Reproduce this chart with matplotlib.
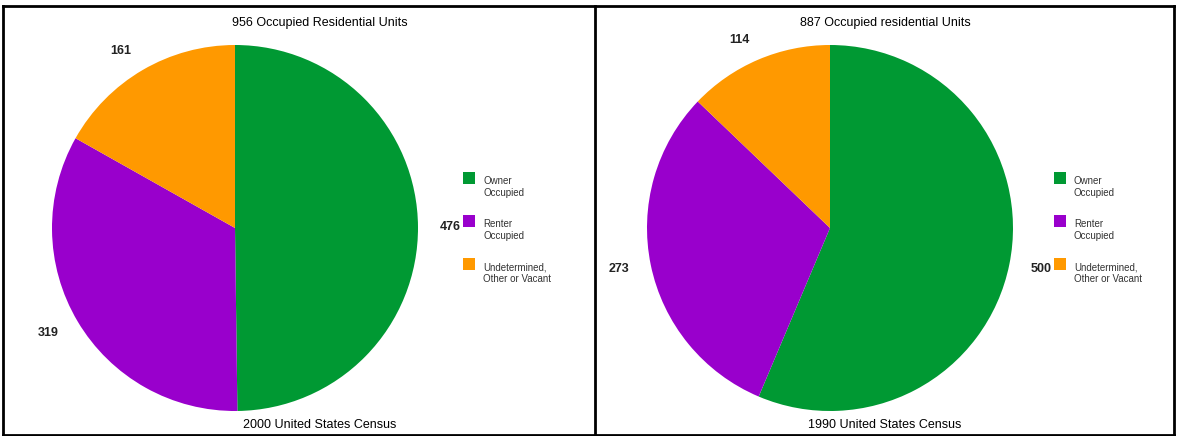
import matplotlib.pyplot as plt
from matplotlib.patches import Rectangle
from matplotlib.lines import Line2D

# data
categories = ['Owner\nOccupied', 'Renter\nOccupied', 'Undetermined,\nOther or Vacant']
units_2000 = [476, 319, 161]
units_1990 = [500, 273, 114]
colors = ['#009933', '#9900CC', '#FF9900']

W, H = 1177, 436
fig = plt.figure(figsize=(W / 100, H / 100), dpi=100)
fig.patch.set_facecolor('white')

narrow = ['Liberation Sans Narrow', 'Liberation Sans', 'DejaVu Sans']
bold = ['Liberation Sans', 'DejaVu Sans']


def fx(x):
    return x / W


def fy(y):
    return 1 - y / H


def panel(cx, cy, r, values, title, footer, text_x, legend_x):
    ax = fig.add_axes([fx(cx - r), fy(cy + r), 2 * r / W, 2 * r / H])
    ax.pie(values, colors=colors, startangle=90, counterclock=False,
           labels=[str(v) for v in values], labeldistance=1.12,
           textprops=dict(fontsize=9, fontweight='bold', family=bold, color='#222222'),
           wedgeprops=dict(linewidth=0))
    ax.set_xlim(-1, 1)
    ax.set_ylim(-1, 1)
    ax.set_aspect('auto')
    ax.axis('off')

    fig.text(fx(text_x), fy(23), title, ha='center', va='center', fontsize=9, family=narrow)
    fig.text(fx(text_x), fy(425), footer, ha='center', va='center', fontsize=9, family=narrow)

    for i, (lab, c) in enumerate(zip(categories, colors)):
        top = 172 + i * 43
        fig.add_artist(Rectangle((fx(legend_x), fy(top + 12)), 12 / W, 12 / H,
                                 transform=fig.transFigure, facecolor=c, edgecolor='none'))
        fig.text(fx(legend_x + 20), fy(top + 4), lab, ha='left', va='top',
                 fontsize=7, family=narrow, linespacing=1.2, color='#333333')


panel(235, 228, 183, units_2000, '956 Occupied Residential Units',
      '2000 United States Census', 320, 463)
panel(830, 228, 183, units_1990, '887 Occupied residential Units',
      '1990 United States Census', 885, 1054)

# panel borders
lw = 2
for x in [3, 595, 1174]:
    fig.add_artist(Line2D([fx(x), fx(x)], [fy(6), fy(435)], transform=fig.transFigure,
                          color='black', linewidth=lw))
fig.add_artist(Line2D([fx(3), fx(1174)], [fy(6), fy(6)], transform=fig.transFigure,
                      color='black', linewidth=lw))
fig.add_artist(Line2D([fx(3), fx(1174)], [fy(435), fy(435)], transform=fig.transFigure,
                      color='black', linewidth=lw))

fig.savefig('out.png', dpi=100)
